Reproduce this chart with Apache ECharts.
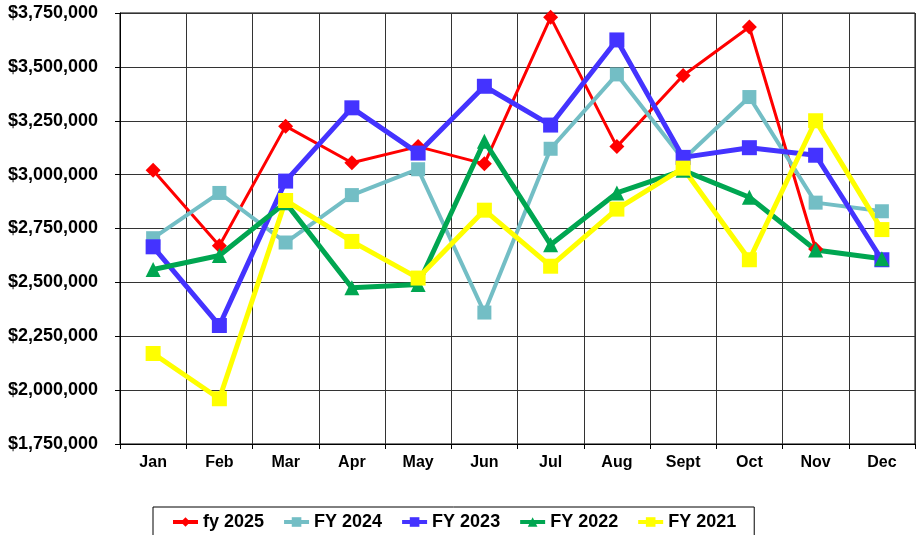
<!DOCTYPE html>
<html>
<head>
<meta charset="utf-8">
<script src="https://cdn.jsdelivr.net/npm/echarts@6/dist/echarts.min.js"></script>
<style>
  html, body { margin: 0; padding: 0; background: #fff; }
  #chart { width: 916px; height: 535px; }
</style>
</head>
<body>
<div id="chart"></div>
<script>
// months on the x axis
var months = ["Jan", "Feb", "Mar", "Apr", "May", "Jun", "Jul", "Aug", "Sept", "Oct", "Nov", "Dec"];

// monthly values
var fy2025 = [3020000, 2670000, 3225000, 3055000, 3130000, 3050000, 3730000, 3130000, 3460000, 3685000, 2655000, null];
var fy2024 = [2705000, 2915000, 2685000, 2905000, 3025000, 2360000, 3120000, 3465000, 3070000, 3360000, 2870000, 2830000];
var fy2023 = [2665000, 2300000, 2970000, 3310000, 3100000, 3410000, 3230000, 3625000, 3080000, 3125000, 3090000, 2605000];
var fy2022 = [2560000, 2625000, 2870000, 2475000, 2490000, 3155000, 2675000, 2915000, 3020000, 2895000, 2650000, 2610000];
var fy2021 = [2170000, 1960000, 2880000, 2690000, 2520000, 2835000, 2575000, 2840000, 3030000, 2605000, 3250000, 2745000];

var FONT = "'Liberation Sans', Arial, sans-serif";

function makeSeries(name, data, color, width, symbol, size) {
  return {
    name: name,
    type: "line",
    data: data,
    color: color,
    symbol: symbol,
    symbolSize: size,
    connectNulls: false,
    lineStyle: { width: width, color: color },
    itemStyle: { color: color },
    emphasis: { disabled: true }
  };
}

var chart = echarts.init(document.getElementById("chart"), null, { renderer: "canvas" });

chart.setOption({
  animation: false,
  backgroundColor: "#fff",
  grid: {
    left: 120,
    right: 1,
    top: 13,
    bottom: 91,
    show: true,
    borderColor: "#000",
    borderWidth: 1
  },
  legend: {
    left: 153,
    top: 507,
    padding: [6, 18],
    itemGap: 18,
    itemWidth: 25,
    itemHeight: 12,
    borderColor: "#000",
    borderWidth: 1,
    lineStyle: { width: 4 },
    textStyle: { fontFamily: FONT, fontWeight: "bold", fontSize: 18, color: "#000" },
    data: ["fy 2025", "FY 2024", "FY 2023", "FY 2022", "FY 2021"]
  },
  xAxis: {
    type: "category",
    data: months,
    boundaryGap: true,
    axisLine: { lineStyle: { color: "#000", width: 1 } },
    axisTick: { show: true, length: 5, lineStyle: { color: "#000" } },
    axisLabel: { margin: 11, fontFamily: FONT, fontWeight: "bold", fontSize: 16, color: "#000" },
    splitLine: { show: true, lineStyle: { color: "#333", width: 1 } }
  },
  yAxis: {
    type: "value",
    min: 1750000,
    max: 3750000,
    interval: 250000,
    axisLine: { show: true, lineStyle: { color: "#000", width: 1 } },
    axisTick: { show: true, length: 5, lineStyle: { color: "#000" } },
    axisLabel: {
      margin: 22,
      fontFamily: FONT,
      fontWeight: "bold",
      fontSize: 18,
      color: "#000",
      formatter: function(v) {
        return "$" + v.toLocaleString("en-US");
      }
    },
    splitLine: { show: true, lineStyle: { color: "#333", width: 1 } }
  },
  series: [
    makeSeries("fy 2025", fy2025, "#FF0000", 3, "diamond", 15),
    makeSeries("FY 2024", fy2024, "#73BEC5", 4, "rect", 14),
    makeSeries("FY 2023", fy2023, "#4433FF", 5, "rect", 15),
    makeSeries("FY 2022", fy2022, "#00A651", 5, "triangle", 15),
    makeSeries("FY 2021", fy2021, "#FFFF00", 5, "rect", 15)
  ]
});
</script>
</body>
</html>
